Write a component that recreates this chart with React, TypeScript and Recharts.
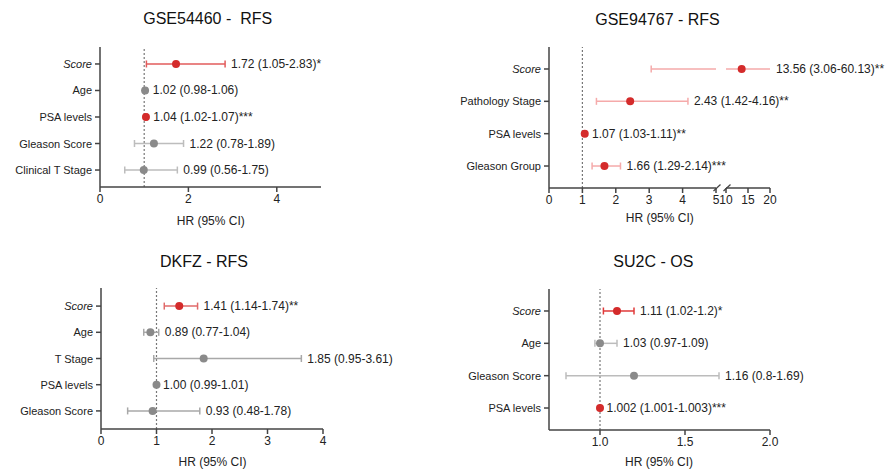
import React from 'react';
import { ScatterChart, Scatter, XAxis, YAxis, ReferenceLine } from 'recharts';

const FONT = '"Liberation Sans", Arial, Helvetica, sans-serif';

// GSE54460 - RFS
const gse54460Vars = ['Score', 'Age', 'PSA levels', 'Gleason Score', 'Clinical T Stage'];
const gse54460HR = [1.72, 1.02, 1.04, 1.22, 0.99];
const gse54460Lo = [1.05, 0.98, 1.02, 0.78, 0.56];
const gse54460Hi = [2.83, 1.06, 1.07, 1.89, 1.75];
const gse54460Text = ['1.72 (1.05-2.83)*', '1.02 (0.98-1.06)', '1.04 (1.02-1.07)***', '1.22 (0.78-1.89)', '0.99 (0.56-1.75)'];
const gse54460Ticks = [0, 2, 4];

// GSE94767 - RFS (broken x axis: 0-5 | 10-20)
const gse94767Vars = ['Score', 'Pathology Stage', 'PSA levels', 'Gleason Group'];
const gse94767HR = [13.56, 2.43, 1.07, 1.66];
const gse94767Lo = [3.06, 1.42, 1.03, 1.29];
const gse94767Hi = [60.13, 4.16, 1.11, 2.14];
const gse94767Text = ['13.56 (3.06-60.13)**', '2.43 (1.42-4.16)**', '1.07 (1.03-1.11)**', '1.66 (1.29-2.14)***'];
const gse94767TicksLow = [0, 1, 2, 3, 4, 5];
const gse94767TicksHigh = [10, 15, 20];

// DKFZ - RFS
const dkfzVars = ['Score', 'Age', 'T Stage', 'PSA levels', 'Gleason Score'];
const dkfzHR = [1.41, 0.89, 1.85, 1.0, 0.93];
const dkfzLo = [1.14, 0.77, 0.95, 0.99, 0.48];
const dkfzHi = [1.74, 1.04, 3.61, 1.01, 1.78];
const dkfzText = ['1.41 (1.14-1.74)**', '0.89 (0.77-1.04)', '1.85 (0.95-3.61)', '1.00 (0.99-1.01)', '0.93 (0.48-1.78)'];
const dkfzTicks = [0, 1, 2, 3, 4];

// SU2C - OS (points as drawn in the figure)
const su2cVars = ['Score', 'Age', 'Gleason Score', 'PSA levels'];
const su2cHR = [1.1, 1.0, 1.2, 1.0];
const su2cLo = [1.02, 0.97, 0.8, 1.001];
const su2cHi = [1.2, 1.1, 1.7, 1.003];
const su2cText = ['1.11 (1.02-1.2)*', '1.03 (0.97-1.09)', '1.16 (0.8-1.69)', '1.002 (1.001-1.003)***'];
const su2cTicks = [1.0, 1.5, 2.0];

type Row = { y: number; name: string; hr: number; lo: number; hi: number; text: string; sig: boolean };

const makeRows = (vars: string[], hr: number[], lo: number[], hi: number[], text: string[]): Row[] =>
  vars.map((name, i) => ({ y: i, name, hr: hr[i], lo: lo[i], hi: hi[i], text: text[i], sig: text[i].includes('*') }));

interface Palette { dotRed: string; dotGray: string; ciRed: string; ciGray: string }

interface ForestProps {
  rows: Row[];
  domain: [number, number];
  ticks: number[];
  tickFmt?: (v: number) => string;
  labelMax: number;
  yDomain: [number, number];
  palette: Palette;
  left: number; top: number; width: number; height: number;
  margin: { top: number; right: number; bottom: number; left: number };
  yWidth: number;
  xHeight: number;
  hideY?: boolean;
}

const AXIS = '#444';

function Forest(p: ForestProps) {
  const [d0, d1] = p.domain;
  const inDom = (v: number) => v >= d0 && v <= d1;
  const labels = p.rows.map(r => r.name);

  // CI segments clipped to this axis segment (matters for the broken axis)
  const segs = p.rows
    .map(r => {
      const a = Math.max(r.lo, d0);
      const b = Math.min(r.hi, d1);
      return a < b ? { r, pts: [{ x: a, y: r.y }, { x: b, y: r.y }] } : null;
    })
    .filter(Boolean) as { r: Row; pts: { x: number; y: number }[] }[];

  const caps = p.rows.flatMap(r => [r.lo, r.hi].filter(inDom).map(x => ({ x, y: r.y, sig: r.sig })));
  const dots = p.rows.filter(r => inDom(r.hr)).map(r => ({ x: r.hr, y: r.y, sig: r.sig }));
  const texts = p.rows
    .filter(r => inDom(Math.min(r.hi, p.labelMax)))
    .map(r => ({ x: Math.min(r.hi, p.labelMax), y: r.y, text: r.text }));

  return (
    <div style={{ position: 'absolute', left: p.left, top: p.top }}>
      <ScatterChart width={p.width} height={p.height} margin={p.margin} style={{ overflow: 'visible' }}>
        <XAxis
          type="number" dataKey="x" domain={p.domain} ticks={p.ticks} interval={0}
          tickFormatter={p.tickFmt} height={p.xHeight} tickSize={5} tickMargin={2}
          axisLine={{ stroke: AXIS, strokeWidth: 1.5 }} tickLine={{ stroke: AXIS, strokeWidth: 1.5 }}
          tick={{ fontSize: 12, fill: '#222', fontFamily: FONT }}
        />
        <YAxis
          type="number" dataKey="y" domain={p.yDomain} reversed ticks={p.rows.map(r => r.y)} interval={0}
          width={p.yWidth} hide={p.hideY} tickSize={5} tickMargin={3}
          axisLine={{ stroke: AXIS, strokeWidth: 1.5 }} tickLine={{ stroke: AXIS, strokeWidth: 1.5 }}
          tick={(t: any) => {
            const name = labels[t.payload.value];
            return (
              <text x={t.x} y={t.y} textAnchor="end" dominantBaseline="central" fontSize={11}
                fill="#222" fontFamily={FONT} fontStyle={name === 'Score' ? 'italic' : 'normal'}>
                {name}
              </text>
            );
          }}
        />
        {inDom(1) && <ReferenceLine x={1} stroke="#777" strokeWidth={1.2} strokeDasharray="2 2" />}
        {segs.map(s => (
          <Scatter key={'ci' + s.r.y} data={s.pts} isAnimationActive={false}
            line={{ stroke: s.r.sig ? p.palette.ciRed : p.palette.ciGray, strokeWidth: 1.5 }}
            shape={() => <g />} />
        ))}
        <Scatter data={caps} isAnimationActive={false}
          shape={(c: any) => (
            <line x1={c.cx} x2={c.cx} y1={c.cy - 3.5} y2={c.cy + 3.5}
              stroke={c.payload.sig ? p.palette.ciRed : p.palette.ciGray} strokeWidth={1.5} />
          )} />
        <Scatter data={dots} isAnimationActive={false}
          shape={(c: any) => (
            <circle cx={c.cx} cy={c.cy} r={4} fill={c.payload.sig ? p.palette.dotRed : p.palette.dotGray} />
          )} />
        <Scatter data={texts} isAnimationActive={false}
          shape={(c: any) => (
            <text x={c.cx + 6} y={c.cy} dominantBaseline="central" fontSize={12} fill="#222" fontFamily={FONT}>
              {c.payload.text}
            </text>
          )} />
      </ScatterChart>
    </div>
  );
}

const RED = '#d42b2b';
const GRAY = '#8a8a8a';

export default function App() {
  const r1 = makeRows(gse54460Vars, gse54460HR, gse54460Lo, gse54460Hi, gse54460Text);
  const r2 = makeRows(gse94767Vars, gse94767HR, gse94767Lo, gse94767Hi, gse94767Text);
  const r3 = makeRows(dkfzVars, dkfzHR, dkfzLo, dkfzHi, dkfzText);
  const r4 = makeRows(su2cVars, su2cHR, su2cLo, su2cHi, su2cText);

  const titleStyle = { fontSize: 16, fill: '#111', fontFamily: FONT, whiteSpace: 'pre' } as const;
  const axisLabelStyle = { fontSize: 12, fill: '#222', fontFamily: FONT } as const;

  return (
    <div style={{ position: 'absolute', left: 0, top: 0, width: 886, height: 469, background: '#fff', fontFamily: FONT }}>
      <Forest rows={r1} domain={[0, 5]} ticks={gse54460Ticks} labelMax={5} yDomain={[-0.64, 4.64]}
        palette={{ dotRed: RED, dotGray: GRAY, ciRed: '#e25b5b', ciGray: '#bdbdbd' }}
        left={0} top={0} width={443} height={235} margin={{ top: 47, right: 122, bottom: 0, left: 0 }}
        yWidth={100} xHeight={48} />

      <Forest rows={r2} domain={[0, 5]} ticks={gse94767TicksLow} labelMax={20} yDomain={[-0.68, 3.68]}
        palette={{ dotRed: RED, dotGray: GRAY, ciRed: '#f5aaaa', ciGray: '#bdbdbd' }}
        left={443} top={0} width={443} height={235} margin={{ top: 47, right: 170, bottom: 0, left: 0 }}
        yWidth={106} xHeight={47} />
      <Forest rows={r2} domain={[10, 20]} ticks={gse94767TicksHigh} labelMax={20} yDomain={[-0.68, 3.68]}
        palette={{ dotRed: RED, dotGray: GRAY, ciRed: '#f5aaaa', ciGray: '#bdbdbd' }}
        left={700} top={0} width={186} height={235} margin={{ top: 47, right: 116, bottom: 0, left: 26 }}
        yWidth={0} xHeight={47} hideY />

      <Forest rows={r3} domain={[0, 4]} ticks={dkfzTicks} labelMax={4} yDomain={[-0.69, 4.69]}
        palette={{ dotRed: RED, dotGray: GRAY, ciRed: '#e06a6a', ciGray: '#a8a8a8' }}
        left={0} top={235} width={443} height={234} margin={{ top: 53, right: 120, bottom: 0, left: 0 }}
        yWidth={101} xHeight={40} />

      <Forest rows={r4} domain={[0.7, 2]} ticks={su2cTicks} tickFmt={(v) => v.toFixed(1)} labelMax={2} yDomain={[-0.68, 3.68]}
        palette={{ dotRed: RED, dotGray: GRAY, ciRed: '#e03a3a', ciGray: '#bcbcbc' }}
        left={443} top={235} width={443} height={234} margin={{ top: 54, right: 116, bottom: 0, left: 0 }}
        yWidth={106} xHeight={39} />

      <svg width={886} height={469} style={{ position: 'absolute', left: 0, top: 0, pointerEvents: 'none' }}>
        <text x={207.7} y={24} textAnchor="middle" style={titleStyle}>{'GSE54460 -  RFS'}</text>
        <text x={657.5} y={24.5} textAnchor="middle" style={titleStyle}>GSE94767 - RFS</text>
        <text x={204} y={266.5} textAnchor="middle" style={titleStyle}>DKFZ - RFS</text>
        <text x={653.3} y={267} textAnchor="middle" style={titleStyle}>SU2C - OS</text>

        <text x={210.8} y={225} textAnchor="middle" style={axisLabelStyle}>HR (95% CI)</text>
        <text x={659.8} y={222} textAnchor="middle" style={axisLabelStyle}>HR (95% CI)</text>
        <text x={212.5} y={466} textAnchor="middle" style={axisLabelStyle}>HR (95% CI)</text>
        <text x={659} y={466} textAnchor="middle" style={axisLabelStyle}>HR (95% CI)</text>

        <line x1={713.5} y1={191} x2={720.5} y2={184.5} stroke={AXIS} strokeWidth={1.2} />
        <line x1={723.5} y1={191} x2={730.5} y2={184.5} stroke={AXIS} strokeWidth={1.2} />
      </svg>
    </div>
  );
}
